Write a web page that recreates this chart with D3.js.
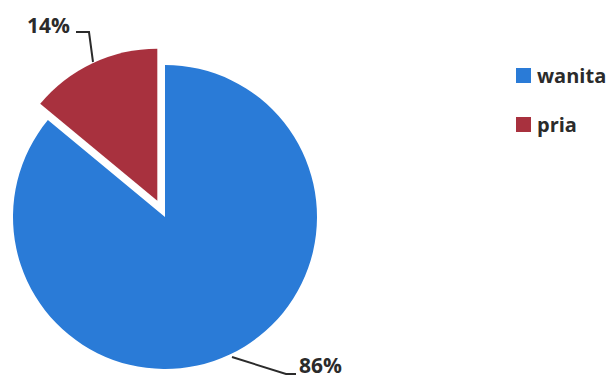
<!DOCTYPE html>
<html>
<head>
<meta charset="utf-8">
<script src="https://cdn.jsdelivr.net/npm/d3@7"></script>
<style>
  body { margin: 0; background: #fff; }
  text { font-family: "Open Sans", "Liberation Sans", sans-serif; font-weight: 700; fill: #2b2b2b; }
</style>
</head>
<body>
<svg id="chart" width="612" height="378"></svg>
<script>
var categories = ["wanita", "pria"];
var values = [86, 14];
var colors = ["#2a7bd7", "#a8313e"];
var labels = ["86%", "14%"];

var svg = d3.select("#chart");
var cx = 165, cy = 217, radius = 152;

var pie = d3.pie().sort(null).startAngle(0).endAngle(2 * Math.PI);
// data order clockwise from top: wanita then pria
var arcs = pie(values);
var arc = d3.arc().innerRadius(0).outerRadius(radius);

var g = svg.append("g").attr("transform", `translate(${cx}, ${cy})`);

g.selectAll("path")
  .data(arcs)
  .enter().append("path")
  .attr("d", arc)
  .attr("fill", (d, i) => colors[i])
  .attr("transform", function(d, i) {
    if (i !== 1) return null;
    var mid = (d.startAngle + d.endAngle) / 2, off = 18;
    return `translate(${Math.sin(mid) * off}, ${-Math.cos(mid) * off})`;
  });

// leader lines
var lines = svg.append("g").attr("fill", "none").attr("stroke", "#2b2b2b").attr("stroke-width", 2);
lines.append("path").attr("d", d3.line()([[232, 357], [286, 374], [296, 374]]));
lines.append("path").attr("d", d3.line()([[76, 32], [89, 32], [93, 62]]));

svg.append("text").attr("x", 299).attr("y", 373).attr("font-size", 21).text(labels[0]);
svg.append("text").attr("x", 27).attr("y", 33).attr("font-size", 21).text(labels[1]);

// legend
var legend = svg.append("g").attr("transform", "translate(516, 68)");
var items = legend.selectAll("g")
  .data(categories)
  .enter().append("g")
  .attr("transform", (d, i) => `translate(0, ${i * 49})`);
items.append("rect").attr("width", 15).attr("height", 15).attr("fill", (d, i) => colors[i]);
items.append("text").attr("x", 21).attr("y", 15).attr("font-size", 20).text(d => d);
</script>
</body>
</html>
